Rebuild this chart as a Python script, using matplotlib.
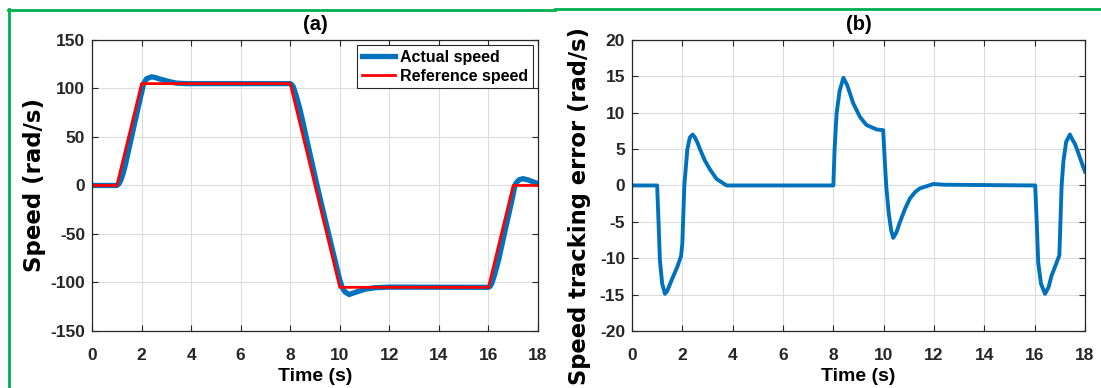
import numpy as np
import matplotlib
matplotlib.use('Agg')
import matplotlib.pyplot as plt
from matplotlib.lines import Line2D

plt.rcParams['font.family'] = ['Liberation Sans', 'DejaVu Sans']
plt.rcParams['font.weight'] = 'bold'
plt.rcParams['axes.labelweight'] = 'bold'
plt.rcParams['axes.titleweight'] = 'bold'
plt.rcParams['axes.unicode_minus'] = False

# reference speed (rad/s)
t_ref = [0, 1.0, 2.0, 8.0, 10.0, 16.0, 17.0, 18.0]
w_ref = [0, 0, 105, 105, -105, -105, 0, 0]

# actual speed (rad/s)
t_act = [0, 1.0, 1.08, 1.15, 1.25, 1.35, 1.6, 1.95, 2.0, 2.08, 2.2, 2.4, 2.55, 2.7, 3.1, 3.4, 3.8, 8.0,
         8.06, 8.13, 8.25, 8.4, 8.79, 9.06, 9.32, 9.72, 10.0, 10.1, 10.2, 10.38, 10.65, 11.04, 11.44, 12.0, 16.0,
         16.07, 16.14, 16.25, 16.41, 16.67, 16.98, 17.07, 17.14, 17.25, 17.4, 17.6, 17.8, 18.0]
w_act = [0, 0, 1.5, 4.8, 12.0, 21.8, 50.5, 90.3, 95.5, 105, 110, 112, 111.3, 110, 107.2, 105.5, 105, 105,
         104.0, 101.3, 92.0, 77.8, 33.4, 2.7, -25.6, -67.9, -97.4, -105, -109.5, -112.4, -110, -106.8, -105.4, -104.8, -105,
         -104.0, -100.9, -92.0, -76.9, -47.0, -11.7, 0, 3.3, 6.0, 7.0, 5.7, 3.8, 1.9]

# speed tracking error (rad/s)
t_err = [0, 1.0, 1.05, 1.11, 1.2, 1.31, 1.4, 1.6, 1.8, 1.95, 2.0, 2.08, 2.2, 2.3, 2.41, 2.5,
         2.6, 2.7, 2.9, 3.1, 3.36, 3.76, 8.0, 8.05, 8.13, 8.25, 8.4, 8.55, 8.79, 9.06, 9.32, 9.72,
         9.98, 10.05, 10.1, 10.2, 10.3, 10.38, 10.5, 10.65, 10.85, 11.04, 11.25, 11.44, 11.97, 12.4,
         16.02, 16.08, 16.14, 16.25, 16.41, 16.55, 16.67, 16.85, 16.98, 17.07, 17.14, 17.25,
         17.4, 17.5, 17.6, 17.7, 17.8, 17.9, 18.0]
e_err = [0, 0, -4.5, -10.3, -13.5, -14.9, -14.5, -12.8, -11.2, -9.7, -8.0, 0, 5.0, 6.6, 7.0, 6.6,
         5.9, 5.0, 3.4, 2.2, 0.9, 0, 0, 5.0, 9.9, 13.0, 14.8, 13.8, 11.3, 9.4, 8.3, 7.7,
         7.6, 3.0, 0, -3.8, -6.2, -7.2, -6.5, -5.0, -3.2, -1.8, -0.9, -0.4, 0.2, 0.1,
         0, -5.0, -10.6, -13.5, -14.9, -14.0, -12.4, -10.8, -9.6, 0, 3.3, 6.0,
         7.0, 6.3, 5.7, 4.8, 3.8, 2.8, 1.9]

matlab_blue = '#0072BD'
tick_col = '#262626'

fig = plt.figure(figsize=(11.01, 3.88), dpi=100)
ax1 = fig.add_axes([0.0836, 0.147, 0.405, 0.750])
ax2 = fig.add_axes([0.574, 0.147, 0.4115, 0.750])

ax1.plot(t_act, w_act, color=matlab_blue, lw=3.8, label='Actual speed', solid_joinstyle='round')
ax1.plot(t_ref, w_ref, color='#FF0000', lw=2.0, label='Reference speed')
ax1.set_ylim(-150, 150)
ax1.set_yticks(np.arange(-150, 151, 50))
ax1.set_ylabel('Speed (rad/s)', fontsize=16.5, family='DejaVu Sans')
ax1.yaxis.set_label_coords(-0.104, 0.5)
ax1.set_title('(a)', fontsize=14.5, pad=7)
leg = ax1.legend(loc='upper right', handlelength=2.1, handletextpad=0.3,
                 borderpad=0.3, labelspacing=0.25, fancybox=False, framealpha=1,
                 borderaxespad=0.3, prop={'weight': 'bold', 'size': 11.5})
leg.get_frame().set_edgecolor(tick_col)
leg.get_frame().set_linewidth(0.8)

ax2.plot(t_err, e_err, color=matlab_blue, lw=2.8, solid_joinstyle='round')
ax2.set_ylim(-20, 20)
ax2.set_yticks(np.arange(-20, 21, 5))
ax2.set_ylabel('Speed tracking error (rad/s)', fontsize=16.3, family='DejaVu Sans')
ax2.yaxis.set_label_coords(-0.09, 0.43)
ax2.set_title('(b)', fontsize=14.5, pad=7)

for ax in (ax1, ax2):
    ax.set_xlim(0, 18)
    ax.set_xticks(np.arange(0, 19, 2))
    ax.set_xlabel('Time (s)', fontsize=14, labelpad=4)
    ax.grid(True, color='#DCDCDC', lw=0.8)
    ax.set_axisbelow(True)
    ax.tick_params(direction='in', top=True, right=True, length=4, width=0.8,
                   labelsize=12.5, colors=tick_col)
    ax.tick_params(axis='x', pad=12)
    ax.tick_params(axis='y', pad=5)
    for s in ax.spines.values():
        s.set_color(tick_col)
        s.set_linewidth(0.9)

# green frame around the figure
green = '#00B050'
fig.add_artist(Line2D([8 / 1101, 555 / 1101], [1 - 10 / 388, 1 - 10 / 388], color=green, lw=2.0))
fig.add_artist(Line2D([555 / 1101, 1.0], [1 - 8.5 / 388, 1 - 8.5 / 388], color=green, lw=2.0))
fig.add_artist(Line2D([9 / 1101, 9 / 1101], [0, 1 - 9 / 388], color=green, lw=2.0))

fig.savefig('out.png', dpi=100)
